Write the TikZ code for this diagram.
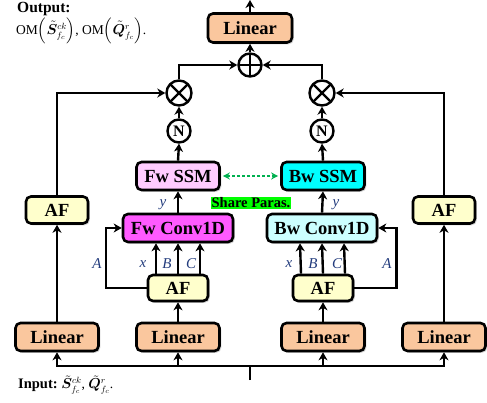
\documentclass[tikz,border=0pt]{standalone}
\usepackage{fontspec}
\setmainfont{Liberation Serif}
\usepackage{amsmath}
\usepackage{bm}
\usetikzlibrary{arrows.meta,shadows}
\definecolor{linfill}{RGB}{250,199,158}
\definecolor{affill}{RGB}{255,255,204}
\definecolor{fwssmfill}{RGB}{255,204,255}
\definecolor{fwconvfill}{RGB}{255,90,255}
\definecolor{bwssmfill}{RGB}{0,255,255}
\definecolor{bwconvfill}{RGB}{204,255,255}
\definecolor{sharegreen}{RGB}{0,255,0}
\definecolor{dotgreen}{RGB}{0,176,80}
\definecolor{lblblue}{RGB}{35,60,125}
\begin{document}
\begin{tikzpicture}[x=1pt,y=-1pt,
  box/.style={draw, line width=2.6pt, rounded corners=5pt, inner sep=0pt,
    font=\fontsize{18.5}{20}\selectfont\bfseries,
    drop shadow={shadow xshift=1.8pt, shadow yshift=-1.8pt, opacity=.35}},
  linbox/.style={box, fill=linfill, minimum width=83pt, minimum height=28pt},
  afbox/.style={box, fill=affill, minimum width=60pt, minimum height=26pt},
  ssmbox/.style={box, minimum width=83pt, minimum height=28pt},
  convbox/.style={box, minimum width=110pt, minimum height=28pt},
  circ/.style={circle, draw, line width=2.4pt, inner sep=0pt, fill=white},
  otimes/.style={circ, minimum size=25pt, path picture={
     \draw[line width=2.4pt] (path picture bounding box.north west) -- (path picture bounding box.south east)
       (path picture bounding box.north east) -- (path picture bounding box.south west);}},
  oplus/.style={circ, minimum size=23pt, path picture={
     \draw[line width=2.4pt] (path picture bounding box.north) -- (path picture bounding box.south)
       (path picture bounding box.east) -- (path picture bounding box.west);}},
  nnode/.style={circ, minimum size=23pt, font=\fontsize{16}{17}\selectfont\bfseries},
  conn/.style={line width=2.4pt},
  arr/.style={conn, -{Stealth[length=8pt,width=9pt,inset=2.5pt]}},
  lbl/.style={text=lblblue, font=\fontsize{15}{16}\selectfont\itshape, inner sep=0pt},
  txt/.style={anchor=west, inner sep=0pt}
]
\useasboundingbox (0,0) rectangle (487,403);

% nodes
\node[linbox, minimum width=84pt, minimum height=29pt] (toplin) at (250,28) {Linear};
\coordinate (topend) at (250,0);
\node[oplus] (plus) at (250,65) {};
\node[otimes] (otL) at (179,93) {};
\node[otimes] (otR) at (322,93) {};
\node[nnode] (NL) at (179,131) {N};
\node[nnode] (NR) at (322,131) {N};
\node[ssmbox, fill=fwssmfill] (fwssm) at (178,176) {Fw SSM};
\node[ssmbox, fill=bwssmfill] (bwssm) at (323,176) {Bw SSM};
\node[fill=sharegreen, inner sep=1pt, font=\fontsize{14.5}{15}\selectfont\bfseries] (share) at (251,203) {Share Paras.};
\node[convbox, fill=fwconvfill] (fwconv) at (178,228) {Fw Conv1D};
\node[convbox, fill=bwconvfill] (bwconv) at (322,228) {Bw Conv1D};
\node[afbox] (affw) at (178,288) {AF};
\node[afbox] (afbw) at (323,288) {AF};
\node[afbox, minimum width=62pt, minimum height=27pt] (afL) at (57,210) {AF};
\node[afbox, minimum width=62pt, minimum height=27pt] (afR) at (444,210) {AF};
\node[linbox] (linL) at (57,337) {Linear};
\node[linbox] (linfw) at (178,337) {Linear};
\node[linbox] (linbw) at (323,337) {Linear};
\node[linbox] (linR) at (444,337) {Linear};
\coordinate (bus) at (250,366);
\coordinate (stem) at (250,380);

% connectors
\draw[conn] (stem) -- (bus);
\draw[arr] (bus) -| (linL.south);
\draw[arr] (bus) -| (linR.south);
\draw[arr] (bus) -| (linfw.south);
\draw[arr] (bus) -| (linbw.south);
\draw[arr] (linL.north) -- (afL.south);
\draw[arr] (linR.north) -- (afR.south);
\draw[arr] (linfw.north) -- (affw.south);
\draw[arr] (linbw.north) -- (afbw.south);
\draw[arr] (afL.north) |- (otL.west);
\draw[arr] (afR.north) |- (otR.east);
\foreach \dx in {-22,0,22}{
  \draw[arr] ([xshift=\dx pt]affw.north) -- ([xshift=\dx pt]fwconv.south);
  \draw[arr] ([xshift=\dx pt]afbw.north) -- ([xshift=\dx pt]bwconv.south);
}
\draw[arr] (affw.west) -- ++(-41,0) |- (fwconv.west);
\draw[arr] (afbw.east) -- ++(42,0) |- (bwconv.east);
\draw[arr] (fwconv.north) -- (fwssm.south);
\draw[arr] (bwconv.north) -- (bwssm.south);
\draw[arr] (fwssm.north) -- (NL.south);
\draw[arr] (bwssm.north) -- (NR.south);
\draw[arr] (NL.north) -- (otL.south);
\draw[arr] (NR.north) -- (otR.south);
\draw[arr] (otL.north) |- (plus.west);
\draw[arr] (otR.north) |- (plus.east);
\draw[arr] (plus.north) -- (toplin.south);
\draw[arr] (toplin.north) -- (topend);
\draw[line width=2.2pt, dotgreen, dash pattern=on 2.5pt off 2.5pt, {Stealth[length=7pt,width=7pt]}-{Stealth[length=7pt,width=7pt]}, shorten <=2pt, shorten >=2pt] (fwssm.east) -- (bwssm.west);

% labels
\node[lbl] (lx1) at (143,264) {x};
\node[lbl] (lB1) at (167,264) {B};
\node[lbl] (lC1) at (191,264) {C};
\node[lbl] (lA1) at (97,264) {A};
\node[lbl] (ly1) at (163,205) {y};
\node[lbl] (lx2) at (289,264) {x};
\node[lbl] (lB2) at (313,264) {B};
\node[lbl] (lC2) at (337,264) {C};
\node[lbl] (lA2) at (387,264) {A};
\node[lbl] (ly2) at (336,205) {y};

% texts
\node[txt, font=\fontsize{15.5}{17}\selectfont\bfseries] (outt) at (17,9) {Output:};
\node[txt, font=\fontsize{13.5}{15}\selectfont] (outf) at (16,31) {$\mathrm{OM}\Big(\tilde{\bm{S}}^{ck}_{f_c}\Big)$, $\mathrm{OM}\Big(\tilde{\bm{Q}}^{r}_{f_c}\Big)$.};
\node[txt] (int) at (18,385) {\fontsize{14.5}{16}\selectfont\bfseries Input:\ \fontsize{13.5}{15}\selectfont\mdseries$\tilde{\bm{S}}^{ck}_{f_c}$, $\tilde{\bm{Q}}^{r}_{f_c}$.};
\end{tikzpicture}
\end{document}
